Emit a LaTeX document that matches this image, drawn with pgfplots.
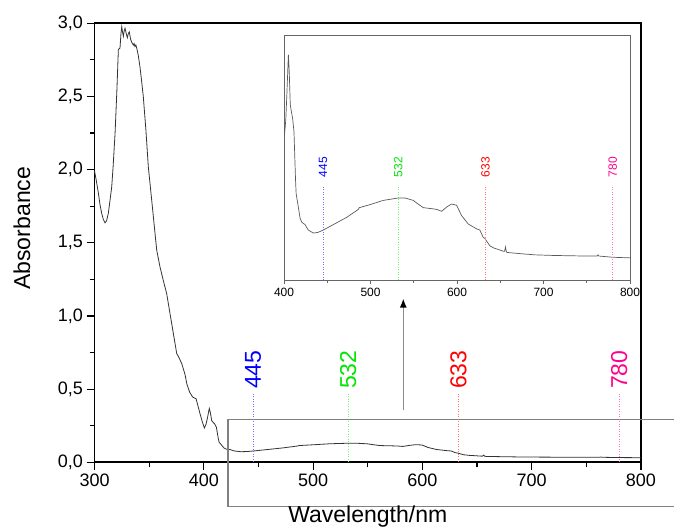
\documentclass[border=0pt]{standalone}
\usepackage{fontspec}
\setmainfont{Liberation Sans}
\usepackage{pgfplots}
\usepackage{pgfplotstable}
\pgfplotsset{compat=1.18}
\usetikzlibrary{arrows.meta}

\definecolor{l445}{RGB}{0,0,255}
\definecolor{l532}{RGB}{0,230,0}
\definecolor{l633}{RGB}{255,0,0}
\definecolor{l780}{RGB}{255,0,140}

% absorbance spectrum
\pgfplotstableread{
wl abs
300 1.99
301.5 1.93
303.5 1.84
305 1.76
306.6 1.70
308 1.66
309.6 1.636
311 1.65
312.6 1.70
314 1.78
315.7 1.88
317 2.02
318.8 2.25
320.5 2.55
321.8 2.82
323.3 2.83
324.2 2.93
324.9 2.975
325.6 2.94
326.4 2.91
327.2 2.95
327.9 2.965
329 2.93
330 2.90
331 2.93
331.8 2.94
333 2.89
334 2.87
335.5 2.85
336.2 2.86
337 2.84
337.8 2.85
338.6 2.83
340 2.78
341.6 2.70
343 2.61
344.6 2.50
347 2.27
349.2 2.02
351.5 1.85
353.8 1.68
356.9 1.449
359.9 1.335
363 1.24
366 1.153
370.6 0.948
375.2 0.743
377 0.72
379.8 0.675
382.8 0.60
384.4 0.538
387 0.48
389.8 0.446
392.9 0.435
394.5 0.39
396.5 0.333
398.5 0.28
400.5 0.235
402 0.26
403.2 0.30
405 0.368
406 0.34
407.2 0.285
408.7 0.272
410 0.262
411.5 0.240
413.3 0.160
414 0.138
416.5 0.116
418.5 0.098
420.4 0.091
424.3 0.087
428 0.078
433.9 0.073
439 0.074
445.4 0.078
457 0.087
472.4 0.099
485.8 0.112
487 0.115
499.3 0.120
514.7 0.127
532 0.131
539.8 0.131
549.4 0.127
555 0.121
561 0.115
572.5 0.113
577 0.112
582.1 0.109
588 0.116
593.7 0.121
599.5 0.119
605.2 0.102
612.9 0.088
622.6 0.080
626.4 0.078
630.2 0.066
632.2 0.064
637.9 0.052
643 0.048
647.5 0.046
653.3 0.043
655 0.043
656 0.050
657 0.042
657.9 0.041
665 0.040
672.6 0.039
690 0.037
711 0.036
749.6 0.035
762 0.035
763 0.037
764 0.035
780 0.033
800 0.032
}\spectrum

\pgfplotsset{
  laser/.style={draw=#1!55, line width=0.5pt, dash pattern=on 1pt off 1.5pt, forget plot},
}

\begin{document}
\begin{tikzpicture}
\begin{axis}[
  scale only axis, width=546.5pt, height=439.3pt,
  xmin=300, xmax=800, ymin=0, ymax=3,
  xtick={300,400,...,800}, ytick={0,0.5,...,3},
  minor x tick num=1, minor y tick num=1,
  xtick pos=left, ytick pos=left,
  tick align=outside,
  major tick length=8pt, minor tick length=5pt,
  axis line style={line width=1.8pt},
  every tick/.style={black, line width=1.2pt},
  tick label style={font=\fontsize{18}{20}\selectfont},
  /pgf/number format/assume math mode=true,
  /pgf/number format/use comma,
  /pgf/number format/1000 sep={},
  yticklabel style={/pgf/number format/fixed, /pgf/number format/fixed zerofill, /pgf/number format/precision=1},
  xlabel={Wavelength/nm}, ylabel={Absorbance},
  label style={font=\fontsize{23}{26}\selectfont},
  xlabel style={at={(axis description cs:0.5,-0.136)}, anchor=base},
  ylabel style={at={(axis description cs:-0.133,0.533)}, anchor=center},
  clip=false,
]
\addplot[black!80, line width=0.8pt] table[x=wl, y=abs] {\spectrum};

\addplot[laser=l445] coordinates {(445,0) (445,0.47)};
\addplot[laser=l532] coordinates {(532,0) (532,0.47)};
\addplot[laser=l633] coordinates {(633,0) (633,0.47)};
\addplot[laser=l780] coordinates {(780,0) (780,0.47)};

\node[l445, rotate=90, anchor=west, inner sep=0pt, font=\fontsize{23}{23}\selectfont] at (axis cs:445,0.50) {445};
\node[l532, rotate=90, anchor=west, inner sep=0pt, font=\fontsize{23}{23}\selectfont] at (axis cs:532,0.50) {532};
\node[l633, rotate=90, anchor=west, inner sep=0pt, font=\fontsize{23}{23}\selectfont] at (axis cs:633,0.50) {633};
\node[l780, rotate=90, anchor=west, inner sep=0pt, font=\fontsize{23}{23}\selectfont] at (axis cs:780,0.50) {780};

% zoom box and arrow to the inset
\draw[black!50, line width=1.2pt] (axis cs:422.2,0.295) rectangle (axis cs:840,-0.299);
\draw[black!45, line width=1.4pt, -{Latex[length=9pt, width=7pt, color=black]}] (axis cs:582.5,0.355) -- (axis cs:582.5,1.119);

\coordinate (insw) at (axis cs:473.4,1.244);
\coordinate (tl) at (axis cs:213.5,3.158);
\coordinate (br) at (axis cs:830.2,-0.465);
\end{axis}

\begin{axis}[
  at={(insw)}, anchor=south west,
  scale only axis, width=346pt, height=245pt,
  xmin=400, xmax=800, ymin=-0.005, ymax=0.40,
  xtick={400,500,...,800}, minor x tick num=1, ytick=\empty,
  xtick pos=left, tick align=outside,
  major tick length=4pt, minor tick length=3pt,
  axis line style={black!60, line width=0.8pt},
  every tick/.style={black!60, line width=0.8pt},
  tick label style={font=\fontsize{12}{13}\selectfont},
  /pgf/number format/assume math mode=true,
  /pgf/number format/1000 sep={},
]
\addplot[black!65, line width=0.7pt] table[x=wl, y=abs] {\spectrum};

\addplot[laser=l445] coordinates {(445,-0.005) (445,0.150)};
\addplot[laser=l532] coordinates {(532,-0.005) (532,0.150)};
\addplot[laser=l633] coordinates {(633,-0.005) (633,0.150)};
\addplot[laser=l780] coordinates {(780,-0.005) (780,0.150)};

\node[l445, rotate=90, anchor=west, inner sep=0pt, font=\fontsize{12}{12}\selectfont] at (axis cs:445,0.165) {445};
\node[l532, rotate=90, anchor=west, inner sep=0pt, font=\fontsize{12}{12}\selectfont] at (axis cs:532,0.165) {532};
\node[l633, rotate=90, anchor=west, inner sep=0pt, font=\fontsize{12}{12}\selectfont] at (axis cs:633,0.165) {633};
\node[l780, rotate=90, anchor=west, inner sep=0pt, font=\fontsize{12}{12}\selectfont] at (axis cs:780,0.165) {780};
\end{axis}

\pgfresetboundingbox
\path[use as bounding box] (tl) rectangle (br);
\end{tikzpicture}
\end{document}
